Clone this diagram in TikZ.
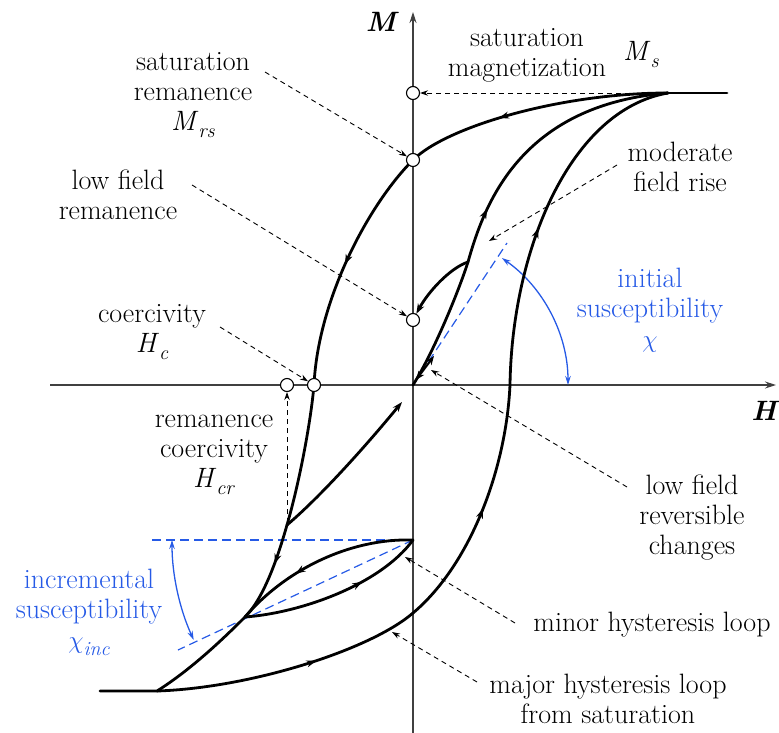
\documentclass[tikz,border=0pt]{standalone}
\usetikzlibrary{arrows.meta,decorations.markings}
\definecolor{myblue}{RGB}{38,90,230}
\newcommand\sbs[1]{\raisebox{-0.25em}{\fontsize{20}{20}\selectfont\textit{#1}}}
\begin{document}
\begin{tikzpicture}[x=1pt,y=-1pt,
  lbl/.style={font=\fontsize{28}{30}\selectfont, align=center, inner sep=0pt},
  axis/.style={line width=1.2pt, draw=black!75, -{Stealth[length=11pt,width=7pt]}},
  curve/.style={line width=2.8pt, line cap=round, line join=round},
  midarrow/.style={postaction={decorate}, decoration={markings, mark=at position #1 with {\arrow{Stealth[length=10pt,width=7pt]}}}},
  endtip/.style={-{Stealth[length=10pt,width=7pt]}},
  ddash/.style={dash pattern=on 5pt off 4pt, line width=0.9pt, -{Stealth[length=8pt,width=5.5pt]}},
  bdash/.style={myblue, dash pattern=on 9pt off 5pt, line width=1.2pt},
  barc/.style={myblue, line width=1.3pt, {Stealth[length=9pt,width=5.5pt]}-{Stealth[length=9pt,width=5.5pt]}},
  dot/.style={circle, draw, fill=white, line width=1.1pt, minimum size=13pt, inner sep=0pt},
]
\useasboundingbox (0,0) rectangle (779,733);

% axes
\coordinate (mbot) at (413,733); \coordinate (mtop) at (413,12);
\coordinate (hl) at (50,385); \coordinate (hr) at (776,385);
\draw[axis] (mbot) -- (mtop);
\draw[axis] (hl) -- (hr);
\node[font=\fontsize{28}{30}\selectfont\bfseries\itshape, inner sep=0pt] (lm) at (381,22) {M};
\node[font=\fontsize{28}{30}\selectfont\bfseries\itshape, inner sep=0pt] (lh) at (764,411) {H};

% key points
\coordinate (S) at (668,93);
\coordinate (A) at (413,160);
\coordinate (B) at (314,385);
\coordinate (C) at (287,525);
\coordinate (D) at (245,617);
\coordinate (E) at (157,691);
\coordinate (E0) at (100,691);
\coordinate (S1) at (727,93);
\coordinate (F) at (413,613);
\coordinate (G) at (510,385);
\coordinate (O) at (413,385);
\coordinate (P) at (468,262);
\coordinate (T) at (413,540);

% blue constructions
\coordinate (bi) at (507,243);
\draw[bdash] (O) -- (bi);
\draw[barc] (568,385) arc[start angle=0, end angle=-55, radius=155];
\coordinate (bh) at (152,540);
\coordinate (bl) at (178,650);
\draw[bdash] (bh) -- (T);
\draw[bdash] (T) -- (bl);
\draw[barc] (172,540) arc[start angle=180, end angle=155.5, radius=241];

% descending major branch
\draw[curve, midarrow=0.64] (S) .. controls (560,93) and (446,127) .. (A);
\draw[curve, midarrow=0.5] (A) .. controls (368,205) and (318,300) .. (B);
\draw[curve] (B) .. controls (311,420) and (300,480) .. (C);
\draw[curve, midarrow=0.4] (C) .. controls (279,553) and (265,597) .. (D);
\draw[curve] (D) .. controls (225,637) and (192,669) .. (E) -- (E0);
% ascending major branch
\draw[curve, midarrow=0.6] (E) .. controls (250,688) and (370,650) .. (F);
\draw[curve, midarrow=0.5] (F) .. controls (470,565) and (506,470) .. (G);
\draw[curve, midarrow=0.45] (G) .. controls (512,250) and (570,110) .. (S);
\draw[curve] (S) -- (S1);
% initial curve
\draw[curve] (O) .. controls (432,355) and (457,296) .. (P);
\draw[curve, midarrow=0.2] (P) .. controls (484,205) and (520,105) .. (S);
% reversible double arrow near origin
\coordinate (rlo) at (416,380);
\coordinate (rhi) at (434,356);
\draw[curve, line width=2pt, {Stealth[length=9pt,width=7pt]}-{Stealth[length=9pt,width=7pt]}] (rlo) -- (rhi);
% branch from C
\coordinate (cb) at (402,402);
\draw[curve, endtip] (C) .. controls (320,497) and (365,447) .. (cb);
% minor loop
\draw[curve, midarrow=0.65] (T) .. controls (350,538) and (285,570) .. (D);
\draw[curve, midarrow=0.65] (D) .. controls (300,613) and (380,585) .. (T);

% circles
\node[dot] (ms) at (413,93) {};
\node[dot] (mrs) at (413,160) {};
\node[dot] (lfr) at (413,320) {};
\node[dot] (hcr) at (287,385) {};
\node[dot] (hc) at (314,385) {};

% low field remanence branch
\draw[curve, endtip] (P) .. controls (450,268) and (428,292) .. (lfr);

% labels and dashed pointers
\node[lbl] (tsm) at (527,55) {saturation\\magnetization};
\node[lbl] (tms) at (641,55) {\textit{M}\sbs{s}};
\coordinate (sms) at (666,93);
\draw[ddash] (sms) -- (ms);

\node[lbl] (tsr) at (193,95) {saturation\\remanence\\\textit{M}\sbs{rs}};
\coordinate (asr) at (265,72);
\draw[ddash] (asr) -- (mrs);

\node[lbl] (tlf) at (118,195) {low field\\remanence};
\coordinate (alf) at (192,185);
\draw[ddash] (alf) -- (lfr);

\node[lbl] (tco) at (152,332) {coercivity\\\textit{H}\sbs{c}};
\coordinate (aco) at (220,327);
\draw[ddash] (aco) -- (hc);

\node[lbl] (trc) at (214,455) {remanence\\coercivity\\\textit{H}\sbs{cr}};
\coordinate (ahcr) at (287,523);
\draw[ddash] (ahcr) -- (hcr);

\node[lbl] (tmf) at (680,167) {moderate\\field rise};
\coordinate (amf) at (617,165); \coordinate (emf) at (489,241);
\draw[ddash] (amf) -- (emf);

\node[lbl, text=myblue] (tis) at (650,310) {initial\\susceptibility\\$\chi$};

\node[lbl] (tlr) at (692,518) {low field\\reversible\\changes};
\coordinate (alr) at (627,487); \coordinate (elr) at (431,370);
\draw[ddash] (alr) -- (elr);

\node[lbl] (tmi) at (652,625) {minor hysteresis loop};
\coordinate (ami) at (515,623); \coordinate (emi) at (405,557);
\draw[ddash] (ami) -- (emi);

\node[lbl] (tma) at (608,699) {major hysteresis loop\\from saturation};
\coordinate (ama) at (477,682); \coordinate (ema) at (392,632);
\draw[ddash] (ama) -- (ema);

\node[lbl, text=myblue] (tic) at (89,612) {incremental\\susceptibility\\$\chi$\sbs{inc}};
\end{tikzpicture}
\end{document}
